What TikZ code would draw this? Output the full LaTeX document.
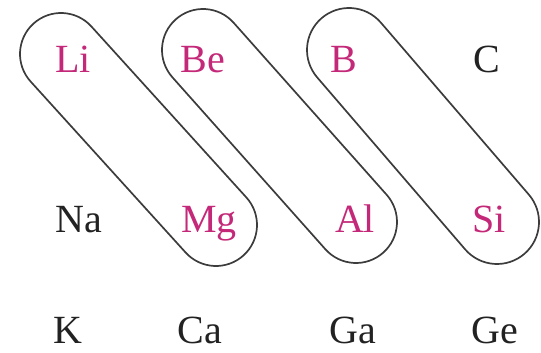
\documentclass[tikz,border=0pt]{standalone}
\usepackage{fontspec}
\setmainfont{Liberation Serif}
\usetikzlibrary{calc}
\definecolor{elemred}{RGB}{196,40,120}
\definecolor{elemblack}{RGB}{34,34,34}
\definecolor{loopgray}{RGB}{60,60,60}
\tikzset{
  elem/.style={anchor=base, inner sep=0pt, font=\fontsize{40}{48}\selectfont, text=elemblack},
  hl/.style={elem, text=elemred},
  loopline/.style={draw=loopgray, line width=1.7pt}
}
\newcommand\drawcapsule[3]{%
  \draw[loopline] let \p1=(#1), \p2=(#2), \n1={atan2(\y2-\y1,\x2-\x1)} in
    ($(#1)!#3!90:(#2)$) arc[start angle=\n1+90, end angle=\n1+270, radius=#3]
    -- ($(#2)!#3!90:(#1)$) arc[start angle=\n1-90, end angle=\n1+90, radius=#3]
    -- cycle;}
\begin{document}
\begin{tikzpicture}[x=1pt,y=1pt]
\useasboundingbox (0,0) rectangle (541,353);
% row 1
\node[hl]   (Li) at (73,280) {Li};
\node[hl]   (Be) at (203,280) {Be};
\node[hl]   (B)  at (344,280) {B};
\node[elem] (C)  at (487,280) {C};
% row 2
\node[elem] (Na) at (79,120) {Na};
\node[hl]   (Mg) at (209,120) {Mg};
\node[hl]   (Al) at (355,120) {Al};
\node[hl]   (Si) at (489,120) {Si};
% row 3
\node[elem] (K)  at (68,9) {K};
\node[elem] (Ca) at (200,9) {Ca};
\node[elem] (Ga) at (353,9) {Ga};
\node[elem] (Ge) at (495,9) {Ge};
% capsule centres
\coordinate (a1) at (61,299);
\coordinate (a2) at (216,128);
\coordinate (b1) at (203,303);
\coordinate (b2) at (356,131);
\coordinate (c1) at (349,303);
\coordinate (c2) at (497,131);
\drawcapsule{a1}{a2}{41pt}
\drawcapsule{b1}{b2}{41pt}
\drawcapsule{c1}{c2}{42pt}
\end{tikzpicture}
\end{document}
